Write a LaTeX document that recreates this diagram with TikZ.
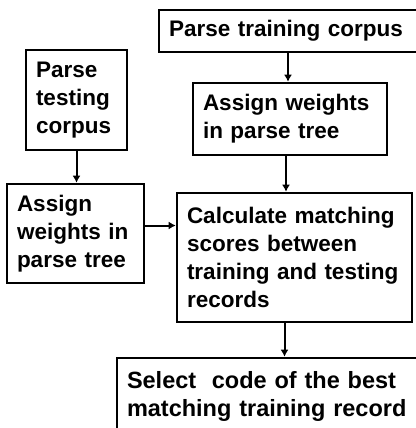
\documentclass[tikz,border=0pt]{standalone}
\usepackage{fontspec}
\setmainfont{Liberation Sans}
\usetikzlibrary{arrows.meta,calc}

\tikzset{
  stepbox/.style={draw, line width=2.6pt, align=left, inner xsep=10pt, inner ysep=0pt,
    font=\fontsize{22.5}{28}\selectfont\bfseries},
  flow/.style={line width=2pt, -{Latex[length=7pt,width=8pt]}}
}

\begin{document}
\begin{tikzpicture}[x=1pt,y=1pt]
    \useasboundingbox (0,0) rectangle (415,-428);
    % Training side
    \node[stepbox, text width=238pt, minimum height=42pt] (train) at (288,-31) {Parse training corpus};
    \node[stepbox, text width=174pt, minimum height=72pt] (rassign) at (290,-119) {Assign weights\\in parse tree};
    % Testing side
    \node[stepbox, text width=81pt, minimum height=100pt] (test) at (76.5,-100) {Parse\\testing\\corpus};
    \node[stepbox, text width=117pt, minimum height=99pt] (lassign) at (75.5,-233.5) {Assign\\weights in\\parse tree};
    % Matching and selection
    \node[stepbox, text width=215pt, minimum height=129pt] (calc) at (294.5,-257.5) {Calculate matching\\scores between\\training and testing\\records};
    \node[stepbox, text width=282pt, minimum height=76pt, font=\fontsize{23.5}{28}\selectfont\bfseries] (select) at (268,-396) {Select~ code of the best\\matching training record};
    % Arrows
    \draw[flow] (train.south) -- (train.south |- rassign.north);
    \draw[flow] ([xshift=-4pt]rassign.south) -- ([xshift=-4pt]rassign.south |- calc.north);
    \draw[flow] (test.south) -- (test.south |- lassign.north);
    \draw[flow] ([yshift=8pt]lassign.east) -- ([yshift=8pt]lassign.east -| calc.west);
    \draw[flow] ([xshift=-10pt]calc.south) -- ([xshift=-10pt]calc.south |- select.north);
\end{tikzpicture}
\end{document}
